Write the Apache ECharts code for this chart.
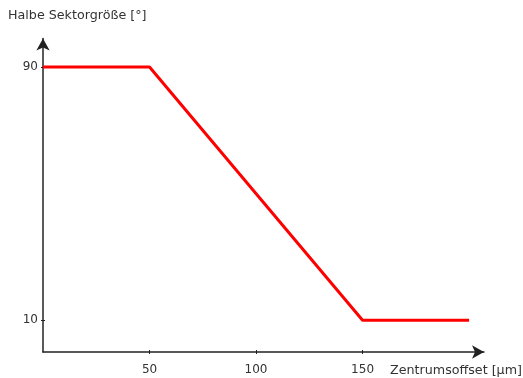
<!DOCTYPE html>
<html><head><meta charset="utf-8">
<script src="https://cdn.jsdelivr.net/npm/echarts@6/dist/echarts.min.js"></script>
<style>html,body{margin:0;padding:0;background:#fff}#c{width:523px;height:378px}</style>
</head><body><div id="c"></div>
<script>
const offsets = [0, 50, 150, 200];
const halfSector = [90, 90, 10, 10];
const xTicks = [50, 100, 150];
const yTicks = [10, 90];
const yName = 'Halbe Sektorgröße [°]';
const xName = 'Zentrumsoffset [µm]';

const font = 'DejaVu Sans, Verdana, sans-serif';
const axisColor = '#222';
const chart = echarts.init(document.getElementById('c'));
chart.setOption({
  animation: false,
  grid: {left: 43, right: 39, top: 38.5, bottom: 26, containLabel: false},
  xAxis: [{
    type: 'value', min: 0, max: 207, position: 'bottom',
    axisLine: {show: true, symbol: ['none', 'arrow'], symbolSize: [10, 12], lineStyle: {color: axisColor, width: 1.5}},
    axisTick: {show: true, length: 2, customValues: xTicks, lineStyle: {color: axisColor, width: 1}},
    axisLabel: {show: true, customValues: xTicks, margin: 12, color: '#333', fontSize: 12, fontFamily: font},
    splitLine: {show: false}
  }, {
    type: 'value', min: 0, max: 207, position: 'bottom', offset: 0,
    axisLine: {show: false},
    axisTick: {show: true, inside: true, length: 2, customValues: xTicks, lineStyle: {color: axisColor, width: 1}},
    axisLabel: {show: false},
    splitLine: {show: false}
  }],
  yAxis: [{
    type: 'value', min: 0, max: 99, position: 'left',
    axisLine: {show: true, symbol: ['none', 'arrow'], symbolSize: [10, 12], lineStyle: {color: axisColor, width: 1.5}},
    axisTick: {show: true, length: 2, customValues: yTicks, lineStyle: {color: axisColor, width: 1}},
    axisLabel: {show: true, customValues: yTicks, margin: 5, color: '#333', fontSize: 12, fontFamily: font},
    splitLine: {show: false}
  }, {
    type: 'value', min: 0, max: 99, position: 'left', offset: 0,
    axisLine: {show: false},
    axisTick: {show: true, inside: true, length: 2, customValues: yTicks, lineStyle: {color: axisColor, width: 1}},
    axisLabel: {show: false},
    splitLine: {show: false}
  }],
  graphic: [
    {type: 'text', left: 8, top: 9.5, style: {text: yName, fill: '#333', font: '12.7px ' + font}},
    {type: 'text', right: 1, top: 364.5, style: {text: xName, fill: '#333', font: '12.7px ' + font}}
  ],
  series: [{
    type: 'line', xAxisIndex: 0, yAxisIndex: 0,
    data: offsets.map((x, i) => [x, halfSector[i]]),
    symbol: 'none',
    lineStyle: {color: '#ff0000', width: 3},
    z: 1
  }]
});
</script></body></html>
